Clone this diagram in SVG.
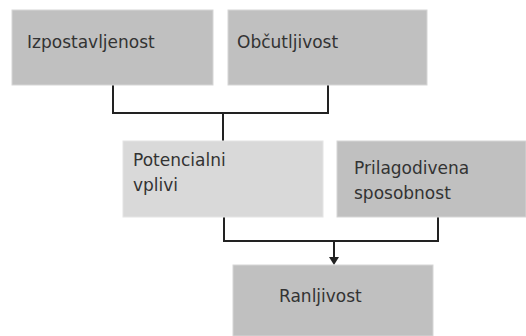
<svg xmlns="http://www.w3.org/2000/svg" width="526" height="336" viewBox="0 0 526 336">
<style>
.box{fill:#c0c0c0;stroke:#d6d6d6;stroke-width:1}
.light{fill:#d9d9d9;stroke:#e4e4e4;stroke-width:1}
.t{font-family:"DejaVu Sans",sans-serif;font-size:17px;fill:#333}
.c{fill:none;stroke:#222;stroke-width:2}
</style>
<defs>
<marker id="ah" markerWidth="8" markerHeight="8" refX="4" refY="6" orient="auto" markerUnits="userSpaceOnUse" viewBox="0 0 8 8">
<path d="M0,0 L8,0 L4,7 Z" fill="#222" transform="rotate(-90 4 4)"/>
</marker>
</defs>
<rect width="526" height="336" fill="#fff"/>
<g id="connectors">
<polyline class="c" points="113,85 113,113 328,113 328,85"/>
<line class="c" x1="223" y1="113" x2="223" y2="141"/>
<polyline class="c" points="224,217 224,241 438,241 438,217"/>
<line class="c" x1="334" y1="241" x2="334" y2="258"/>
<path d="M329,257 L339,257 L334,265 Z" fill="#222"/>
</g>
<g id="izpostavljenost">
<rect class="box" x="12" y="10" width="201" height="75"/>
<text class="t" x="27" y="48" font-size="18">Izpostavljenost</text>
</g>
<g id="obcutljivost">
<rect class="box" x="228" y="10" width="199" height="75"/>
<text class="t" x="237" y="48">Občutljivost</text>
</g>
<g id="potencialni">
<rect class="light" x="123" y="141" width="200" height="76"/>
<text class="t" x="133" y="166">Potencialni</text>
<text class="t" x="133" y="191">vplivi</text>
</g>
<g id="prilagodivena">
<rect class="box" x="337" y="141" width="189" height="76"/>
<text class="t" x="354" y="174">Prilagodivena</text>
<text class="t" x="354" y="199">sposobnost</text>
</g>
<g id="ranljivost">
<rect class="box" x="233" y="265" width="200" height="71"/>
<text class="t" x="279" y="302">Ranljivost</text>
</g>
</svg>
